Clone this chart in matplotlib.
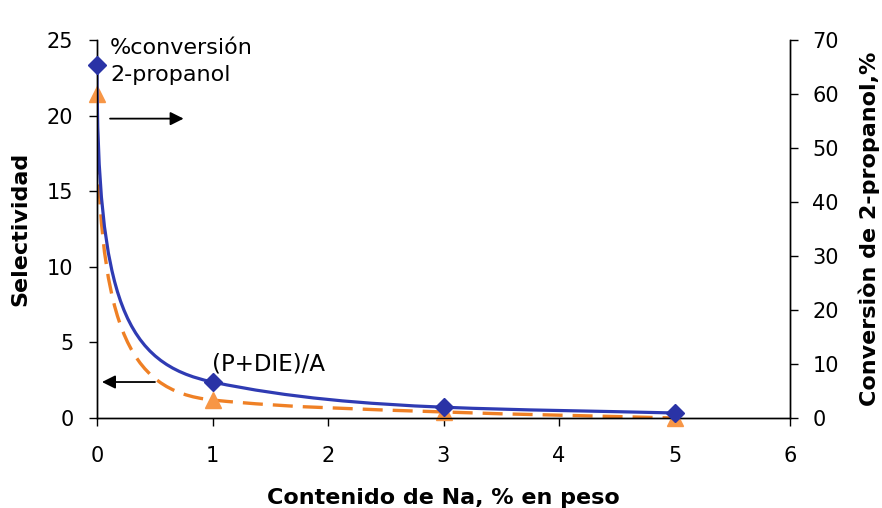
import numpy as np
import matplotlib
matplotlib.use("Agg")
import matplotlib.pyplot as plt
from matplotlib.path import Path
from matplotlib.patches import PathPatch

plt.rcParams['font.family'] = ['DejaVu Sans']

# Sodium content (wt %)
na_content = [0, 1, 3, 5]
# Conversion of 2-propanol, % (right axis)
conversion = [65.4, 6.67, 2.0, 0.93]
# Selectivity (P+DIE)/A (left axis)
selectivity = [21.4, 1.19, 0.4, 0.0]

x_ticks = [0, 1, 2, 3, 4, 5, 6]
left_ticks = [0, 5, 10, 15, 20, 25]
right_ticks = [0, 10, 20, 30, 40, 50, 60, 70]

BLUE_LINE = '#2F3BB3'
BLUE_MARK = '#2A33A6'
ORANGE_LINE = '#EF8025'
ORANGE_MARK = '#F79646'


def smooth_path(xs, ys, first_handle=0.75):
    """Smooth Bezier path through the points.

    The curve leaves the first point vertically; interior tangents use
    the harmonic mean of the neighbouring chord slopes.
    """
    x = np.asarray(xs, float)
    y = np.asarray(ys, float)
    n = len(x)
    d = np.diff(y) / np.diff(x)
    m = np.zeros(n)
    for i in range(1, n - 1):
        if d[i - 1] * d[i] > 0:
            m[i] = 2.0 / (1.0 / d[i - 1] + 1.0 / d[i])
    m[-1] = d[-1]
    verts = [(x[0], y[0])]
    codes = [Path.MOVETO]
    for i in range(n - 1):
        dx = x[i + 1] - x[i]
        if i == 0:
            k = first_handle
            c1 = (x[i], y[i] + k * (y[i + 1] - y[i]))
        else:
            k = 1.0 / 3.0
            c1 = (x[i] + k * dx, y[i] + m[i] * k * dx)
        c2 = (x[i + 1] - k * dx, y[i + 1] - m[i + 1] * k * dx)
        verts += [c1, c2, (x[i + 1], y[i + 1])]
        codes += [Path.CURVE4] * 3
    return Path(verts, codes)


fig = plt.figure(figsize=(8.82, 5.08), dpi=100)
ax = fig.add_axes([97 / 882, 90 / 508, 693 / 882, 378 / 508])
ax2 = ax.twinx()

# Selectivity on the left axis
ax.add_patch(PathPatch(smooth_path(na_content, selectivity), fill=False,
                       edgecolor=ORANGE_LINE, lw=2.4, linestyle=(0, (6, 3)),
                       capstyle='butt', zorder=2))
ax.plot(na_content, selectivity, linestyle='none', marker='^', ms=12,
        color=ORANGE_MARK, mec=ORANGE_MARK, zorder=3, clip_on=False)

# Conversion on the right axis
ax2.add_patch(PathPatch(smooth_path(na_content, conversion), fill=False,
                        edgecolor=BLUE_LINE, lw=2.3, zorder=2))
ax2.plot(na_content, conversion, linestyle='none', marker='D', ms=9,
         color=BLUE_MARK, mec=BLUE_MARK, zorder=3, clip_on=False)

ax.set_xlim(0, 6)
ax.set_ylim(0, 25)
ax2.set_ylim(0, 70)
ax.set_xticks(x_ticks)
ax.set_yticks(left_ticks)
ax2.set_yticks(right_ticks)

for a in (ax, ax2):
    a.spines['top'].set_visible(False)
    for s in a.spines.values():
        s.set_linewidth(1.0)
        s.set_color('black')
    a.tick_params(direction='out', length=6, width=1.0, labelsize=15,
                  colors='black')
ax.tick_params(axis='x', pad=14)
ax.tick_params(axis='y', pad=11)
ax2.tick_params(axis='y', pad=10)

ax.set_xlabel('Contenido de Na, % en peso', fontsize=16, fontweight='bold',
              labelpad=16)
ax.set_ylabel('Selectividad', fontsize=16, fontweight='bold', labelpad=12)
ax2.set_ylabel('Conversiòn de 2-propanol,%', fontsize=16, fontweight='bold',
               labelpad=14)

# Annotations
ax.text(0.113, 24.1, '%conversión', fontsize=16, va='baseline', ha='left')
ax.text(0.113, 22.3, '2-propanol', fontsize=16, va='baseline', ha='left')
ax.annotate('', xy=(0.75, 19.8), xytext=(0.113, 19.8),
            arrowprops=dict(arrowstyle='-|>', color='black', lw=1.3,
                            mutation_scale=20, shrinkA=0, shrinkB=0))
ax.text(0.996, 3.17, '(P+DIE)/A', fontsize=16.5, va='baseline', ha='left')
ax.annotate('', xy=(0.043, 2.38), xytext=(0.502, 2.38),
            arrowprops=dict(arrowstyle='-|>', color='black', lw=1.3,
                            mutation_scale=20, shrinkA=0, shrinkB=0))

fig.savefig('out.png', dpi=100)
